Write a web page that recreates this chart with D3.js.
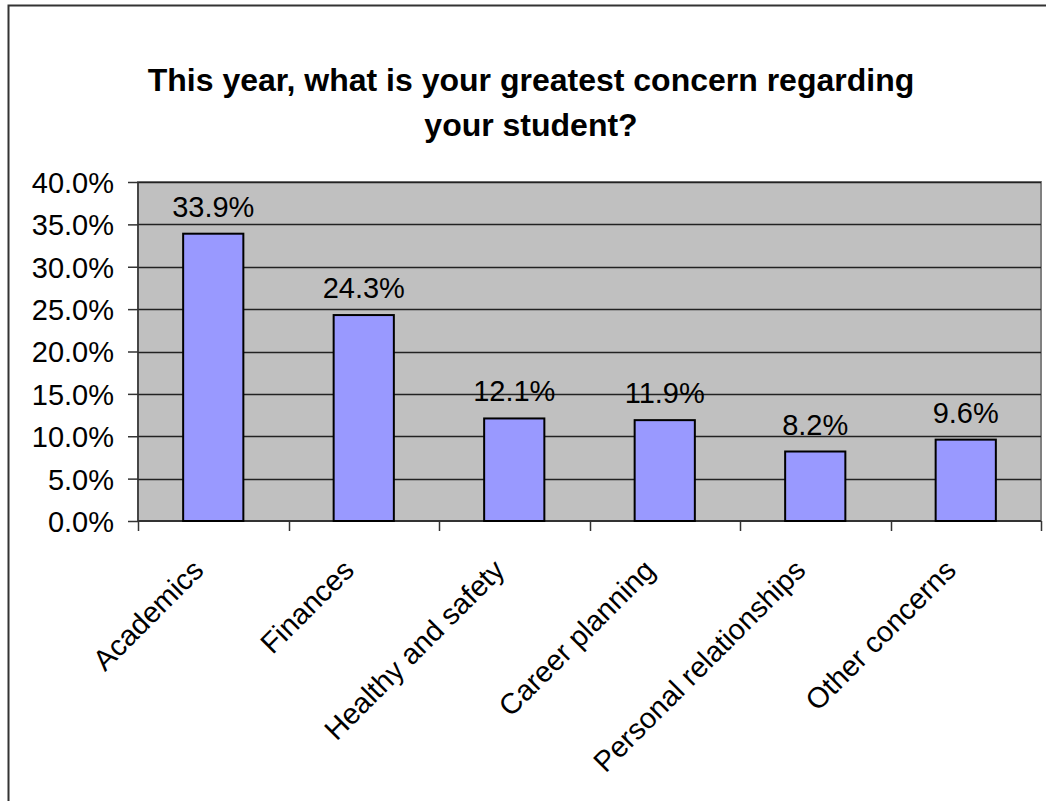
<!DOCTYPE html>
<html><head><meta charset="utf-8">
<script src="https://cdn.jsdelivr.net/npm/d3@7"></script>
<style>body{margin:0;background:#fff}svg{display:block}text{font-family:"Liberation Sans",Arial,sans-serif}</style>
</head><body><svg id="c" width="1046" height="801"></svg>
<script>
const categories = ["Academics","Finances","Healthy and safety","Career planning","Personal relationships","Other concerns"];
const values = [33.9, 24.3, 12.1, 11.9, 8.2, 9.6];
const yTicks = [0,5,10,15,20,25,30,35,40];
const titleLines = ["This year, what is your greatest concern regarding","your student?"];

const svg = d3.select("#c");
const W=1046,H=801;
svg.append("rect").attr("x",8.5).attr("y",5.5).attr("width",W+20).attr("height",H+20)
  .attr("fill","#fff").attr("stroke","#333").attr("stroke-width",2);

const m={l:138,r:1041,t:182,b:521};
const x=d3.scaleBand().domain(categories).range([m.l,m.r]).paddingInner(0.6).paddingOuter(0.3);
const y=d3.scaleLinear().domain([0,40]).range([m.b,m.t]);

svg.append("rect").attr("x",m.l).attr("y",m.t).attr("width",m.r-m.l).attr("height",m.b-m.t)
  .attr("fill","#c0c0c0").attr("stroke","#808080").attr("stroke-width",2);

svg.append("g").selectAll("line").data(yTicks.filter(d=>d>0)).join("line")
  .attr("x1",m.l).attr("x2",m.r).attr("y1",d=>Math.round(y(d))+0.5).attr("y2",d=>Math.round(y(d))+0.5)
  .attr("stroke","#222").attr("stroke-width",1.3);

const ya=d3.axisLeft(y).tickValues(yTicks).tickFormat(d=>d.toFixed(1)+"%").tickSize(10).tickPadding(14);
const gy=svg.append("g").attr("transform",`translate(${m.l},0)`).call(ya);
gy.selectAll("text").attr("font-size",29).attr("font-family","Liberation Sans, Arial, sans-serif").attr("fill","#000").attr("dy","0.36em");
gy.selectAll("line,path").attr("stroke","#333").attr("stroke-width",1.5);
gy.select("path").attr("d",`M0,${m.t}V${m.b}`);

const step=(m.r-m.l)/categories.length;
const bounds=d3.range(categories.length+1).map(i=>m.l+i*step);
svg.append("g").selectAll("line").data(bounds).join("line")
  .attr("x1",d=>Math.round(d)+0.5).attr("x2",d=>Math.round(d)+0.5).attr("y1",m.b).attr("y2",m.b+10)
  .attr("stroke","#333").attr("stroke-width",1.5);
svg.append("line").attr("x1",m.l).attr("x2",m.r).attr("y1",m.b).attr("y2",m.b).attr("stroke","#333").attr("stroke-width",2);

svg.append("g").selectAll("rect").data(values).join("rect")
  .attr("x",(d,i)=>x(categories[i])).attr("width",x.bandwidth())
  .attr("y",d=>y(d)).attr("height",d=>y(0)-y(d))
  .attr("fill","#9999ff").attr("stroke","#000").attr("stroke-width",2);

svg.append("g").selectAll("text").data(values).join("text")
  .attr("x",(d,i)=>x(categories[i])+x.bandwidth()/2).attr("y",d=>y(d)-17)
  .attr("text-anchor","middle").attr("font-size",29).text(d=>d.toFixed(1)+"%");

svg.append("g").selectAll("text").data(categories).join("text")
  .attr("transform",(d)=>`translate(${x(d)+x.bandwidth()/2-8},572) rotate(-45)`)
  .attr("text-anchor","end").attr("font-size",29).text(d=>d);

svg.append("g").selectAll("text").data(titleLines).join("text")
  .attr("x",531).attr("y",(d,i)=>91+i*45).attr("text-anchor","middle")
  .attr("font-size",32).attr("font-weight","bold").text(d=>d);
</script></body></html>
